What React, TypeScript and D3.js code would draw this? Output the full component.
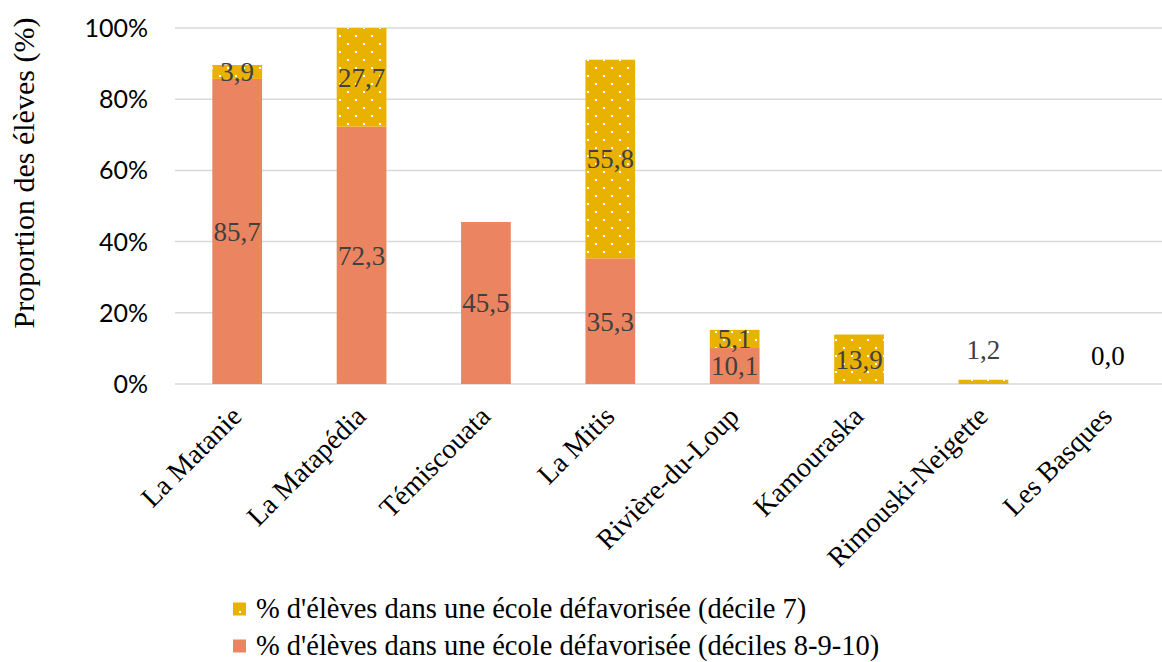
import React from 'react';
import * as d3 from 'd3';

const categories = ['La Matanie', 'La Matapédia', 'Témiscouata', 'La Mitis', 'Rivière-du-Loup', 'Kamouraska', 'Rimouski-Neigette', 'Les Basques'];
const deciles8910 = [85.7, 72.3, 45.5, 35.3, 10.1, 0, 0, 0];
const decile7 = [3.9, 27.7, 0, 55.8, 5.1, 13.9, 1.2, 0];
const yTicks = [0, 20, 40, 60, 80, 100];
const legendLabels = ["% d'élèves dans une école défavorisée (décile 7)", "% d'élèves dans une école défavorisée (déciles 8-9-10)"];

const W = 1162, H = 662;
const ORANGE = '#EB8561';
const GOLD = '#E9B200';
const SERIF = '"Liberation Serif", "Times New Roman", serif';

const fmt = (v: number) => v.toFixed(1).replace('.', ',');

const App = () => {
  const x = d3.scaleBand<string>().domain(categories).range([175, 1170]).paddingInner(0.6).paddingOuter(0.3);
  const y = d3.scaleLinear().domain([0, 100]).range([384, 28]);
  const bw = x.bandwidth();

  const rows = categories.map((c, i) => ({ c, low: deciles8910[i], high: decile7[i] }));

  return (
    <svg width={W} height={H} style={{ display: 'block', position: 'absolute', left: 0, top: 0, background: '#fff' }}>
      <defs>
        <pattern id="dots" width={16} height={16} patternUnits="userSpaceOnUse">
          <rect width={16} height={16} fill={GOLD} />
          <rect x={3} y={3} width={2} height={2} fill="#fff" />
          <rect x={11} y={11} width={2} height={2} fill="#fff" />
        </pattern>
      </defs>

      {/* grid */}
      {yTicks.map(t => (
        <g key={t}>
          <line x1={175} x2={W} y1={y(t)} y2={y(t)} stroke="#D9D9D9" strokeWidth={1.5} />
          <text x={148} y={y(t)} dy="0.36em" textAnchor="end" fontFamily="Lato, sans-serif" fontSize={25} fill="#000">{t}%</text>
        </g>
      ))}

      <text transform={`translate(34,${(y(0) + y(100)) / 2 - 33}) rotate(-90)`} textAnchor="middle" fontFamily={SERIF} fontSize={30} fill="#000">
        Proportion des élèves (%)
      </text>

      {/* bars */}
      {rows.map(r => {
        const x0 = x(r.c)!;
        return (
          <g key={r.c}>
            {r.low > 0 && <rect x={x0} y={y(r.low)} width={bw} height={y(0) - y(r.low)} fill={ORANGE} />}
            {r.high > 0 && <rect x={x0} y={y(r.low + r.high)} width={bw} height={y(r.low) - y(r.low + r.high)} fill="url(#dots)" />}
          </g>
        );
      })}

      {/* data labels */}
      {rows.map(r => {
        const cx = x(r.c)! + bw / 2;
        const out: JSX.Element[] = [];
        if (r.low > 0) {
          out.push(<text key="l" x={cx} y={y(r.low / 2)} dy="0.35em" textAnchor="middle" fontFamily={SERIF} fontSize={27} fill="#404040">{fmt(r.low)}</text>);
        }
        if (r.high > 2) {
          out.push(<text key="h" x={cx} y={y(r.low + r.high / 2)} dy="0.35em" textAnchor="middle" fontFamily={SERIF} fontSize={27} fill="#404040">{fmt(r.high)}</text>);
        } else if (r.high > 0) {
          out.push(<text key="h" x={cx} y={y(r.low + r.high) - 30} dy="0.35em" textAnchor="middle" fontFamily={SERIF} fontSize={27} fill="#404040">{fmt(r.high)}</text>);
        } else if (r.low === 0) {
          out.push(<text key="z" x={cx} y={y(0) - 28} dy="0.35em" textAnchor="middle" fontFamily={SERIF} fontSize={27} fill="#000">{fmt(0)}</text>);
        }
        return <g key={r.c}>{out}</g>;
      })}

      {/* category labels */}
      {categories.map(c => {
        const cx = x(c)! + bw / 2;
        return (
          <text key={c} transform={`translate(${cx + 6},418) rotate(-45)`} textAnchor="end" fontFamily={SERIF} fontSize={28} fill="#000">{c}</text>
        );
      })}

      {/* legend */}
      {legendLabels.map((l, i) => {
        const ly = 609 + i * 37;
        return (
          <g key={l}>
            <rect x={233} y={ly - 6.5} width={13} height={13} fill={i === 0 ? GOLD : ORANGE} />
            {i === 0 && <rect x={239} y={ly + 2} width={2} height={2} fill="#fff" />}
            <text x={256} y={ly} dy="0.33em" fontFamily={SERIF} fontSize={28.5} fill="#000">{l}</text>
          </g>
        );
      })}
    </svg>
  );
};

export default App;
